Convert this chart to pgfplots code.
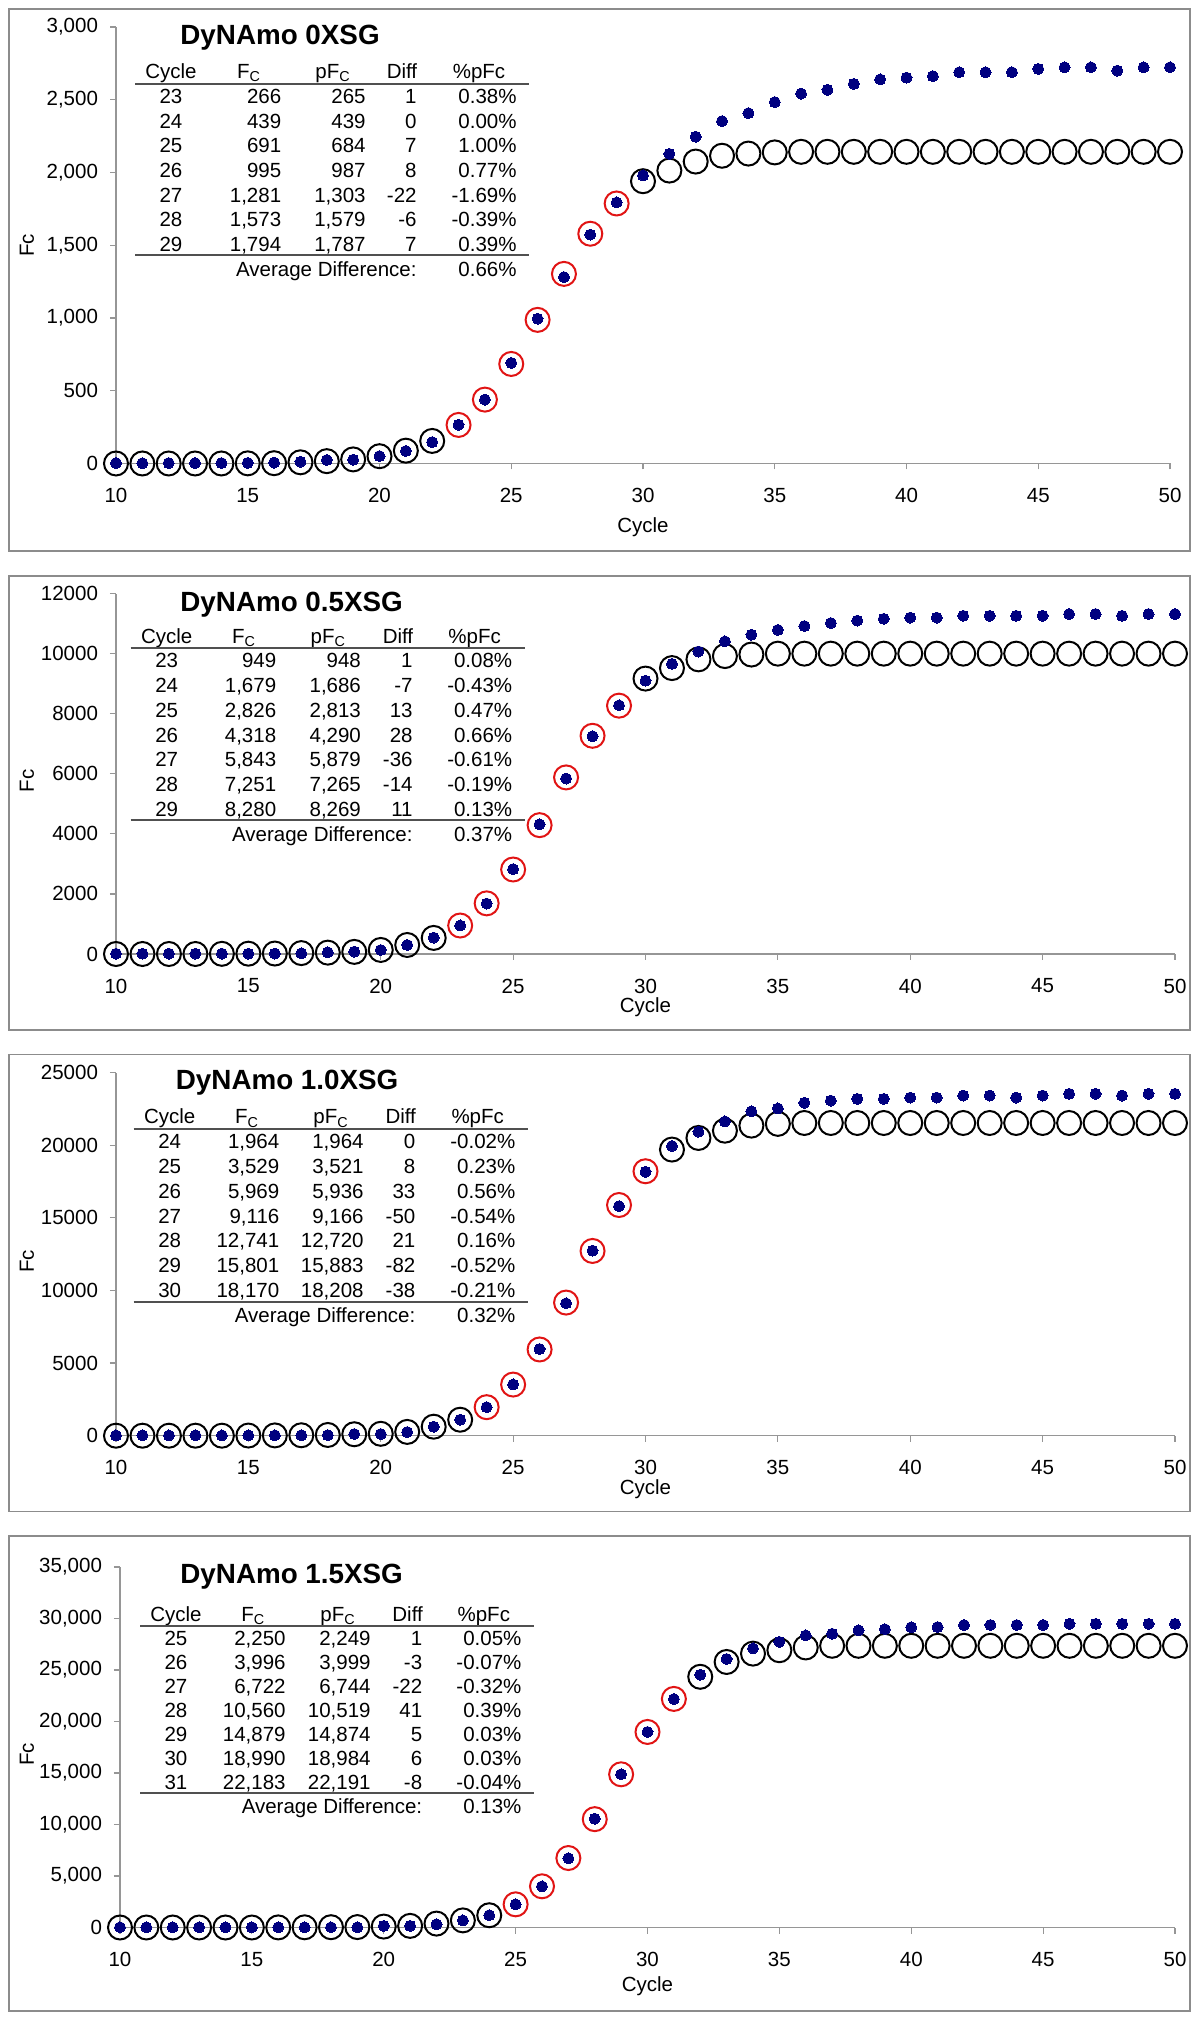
\documentclass[border=0pt]{standalone}
\usepackage{fontspec}
\setmainfont{Liberation Sans}
\usepackage{pgfplots}
\pgfplotsset{compat=1.18}
\definecolor{dotblue}{RGB}{0,0,128}
\definecolor{ringred}{RGB}{225,20,20}
\definecolor{axgray}{RGB}{150,150,150}
\definecolor{boxgray}{RGB}{140,140,140}
\definecolor{rulegray}{RGB}{80,80,80}
\newcommand\tf{\fontsize{10.25}{12}\selectfont}
\newcommand\ttl{\fontsize{13.9}{16}\selectfont\bfseries}

\pgfplotsset{
  fcaxis/.style={
    scale only axis, clip=false, anchor=south west,
    xmin=10, xmax=50, ymin=0,
    axis x line*=bottom, axis y line*=left,
    axis line style={axgray, line width=0.7pt},
    xtick={10,15,...,50},
    tick align=outside,
    major tick length=3pt,
    tick style={axgray, line width=0.6pt},
    ticklabel style={font=\tf, black},
    xticklabel style={yshift=-5.9pt},
    yticklabel style={xshift=-2.5pt},
    /pgf/number format/assume math mode=true,
    /pgf/number format/fixed,
    /pgf/number format/precision=0,
    scaled y ticks=false, scaled x ticks=false,
    label style={font=\tf},
    xlabel={Cycle}, ylabel={Fc},
    x label style={anchor=center},
    y label style={anchor=center},
  },
  ring/.style={only marks, mark=o, mark size=6pt, mark options={draw=#1, line width=1pt, solid}},
  dots/.style={only marks, mark=*, mark size=2.75pt, mark options={fill=dotblue, draw=dotblue, line width=0pt}},
}

\tikzset{tt/.style={font=\tf, inner sep=0pt}}
\newcommand\hdr[1]{%
  \node[tt,anchor=base] at (\cC,#1) {Cycle};
  \node[tt,anchor=base] at ({\cF-32.6},#1) {F\textsubscript{C}};
  \node[tt,anchor=base] at ({\cP-33},#1) {pF\textsubscript{C}};
  \node[tt,anchor=base] at ({\cD-15},#1) {Diff};
  \node[tt,anchor=base] at ({\cR-38},#1) {\%pFc};
}
\newcommand\trow[6]{%
  \node[tt,anchor=base] at (\cC,{#1+7.3}) {#2};
  \node[tt,anchor=base east] at (\cF,{#1+7.3}) {#3};
  \node[tt,anchor=base east] at (\cP,{#1+7.3}) {#4};
  \node[tt,anchor=base east] at (\cD,{#1+7.3}) {#5};
  \node[tt,anchor=base east] at (\cR,{#1+7.3}) {#6\%};
}
\newcommand\trule[1]{\draw[rulegray, line width=1pt] ({\cC-36},#1) -- ({\cR+12},#1);}
\newcommand\tavg[2]{%
  \node[tt,anchor=base east] at (\cD,{#1+7.3}) {Average Difference:};
  \node[tt,anchor=base east] at (\cR,{#1+7.3}) {#2\%};
}

\begin{document}
\begin{tikzpicture}
\path[use as bounding box, fill=white] (0,0) rectangle (600pt,1009pt);

% ---------------- Panel 1 ----------------
\begin{axis}[fcaxis, at={(58pt,777.25pt)}, width=527pt, height=218.25pt,
  ymax=3000, ytick={0,500,...,3000}, /pgf/number format/1000 sep={,},
  x label style={at={(axis description cs:0.5,-0.145)}},
  y label style={at={(axis description cs:-0.0846,0.5)}}]
\addplot[ring=black] coordinates {
 (10,0) (11,0) (12,0) (13,0) (14,0) (15,1) (16,2) (17,8) (18,16) (19,28) (20,50) (21,88) (22,155)
 (30,1940) (31,2013) (32,2075) (33,2115) (34,2130) (35,2138) (36,2142) (37,2142) (38,2142) (39,2142)
 (40,2142) (41,2142) (42,2142) (43,2142) (44,2142) (45,2142) (46,2142) (47,2142) (48,2142) (49,2142) (50,2142)};
\addplot[ring=ringred] coordinates {
 (23,265) (24,439) (25,684) (26,987) (27,1303) (28,1579) (29,1787)};
\addplot[dots] coordinates {
 (10,3) (11,2) (12,3) (13,3) (14,3) (15,4) (16,6) (17,12) (18,24) (19,26) (20,51) (21,86) (22,147)
 (23,266) (24,439) (25,691) (26,995) (27,1281) (28,1573) (29,1794)
 (30,1980) (31,2128) (32,2246) (33,2353) (34,2408) (35,2484) (36,2542) (37,2568) (38,2609) (39,2640)
 (40,2652) (41,2662) (42,2689) (43,2689) (44,2689) (45,2712) (46,2723) (47,2723) (48,2700) (49,2723) (50,2723)};
\end{axis}

% ---------------- Panel 2 ----------------
\begin{axis}[fcaxis, at={(58pt,532pt)}, width=529.5pt, height=180.2pt,
  ymax=12000, ytick={0,2000,...,12000}, /pgf/number format/1000 sep={},
  x label style={at={(axis description cs:0.5,-0.148)}},
  y label style={at={(axis description cs:-0.0842,0.48)}}]
\addplot[ring=black] coordinates {
 (10,0) (11,0) (12,0) (13,0) (14,5) (15,10) (16,15) (17,30) (18,45) (19,70) (20,135) (21,300) (22,535)
 (30,9170) (31,9520) (32,9810) (33,9920) (34,9970) (35,10000) (36,10000) (37,10000) (38,10000) (39,10000)
 (40,10000) (41,10000) (42,10000) (43,10000) (44,10000) (45,10000) (46,10000) (47,10000) (48,10000) (49,10000) (50,10000)};
\addplot[ring=ringred] coordinates {
 (23,948) (24,1686) (25,2813) (26,4290) (27,5879) (28,7265) (29,8269)};
\addplot[dots] coordinates {
 (10,10) (11,10) (12,10) (13,10) (14,10) (15,10) (16,15) (17,20) (18,55) (19,78) (20,133) (21,300) (22,544)
 (23,949) (24,1679) (25,2826) (26,4318) (27,5843) (28,7251) (29,8280)
 (30,9100) (31,9660) (32,10070) (33,10410) (34,10630) (35,10790) (36,10920) (37,11020) (38,11100) (39,11160)
 (40,11200) (41,11200) (42,11260) (43,11260) (44,11260) (45,11260) (46,11320) (47,11320) (48,11260) (49,11320) (50,11320)};
\end{axis}

% ---------------- Panel 3 ----------------
\begin{axis}[fcaxis, at={(58pt,291.15pt)}, width=529.5pt, height=181.55pt,
  ymax=25000, ytick={0,5000,...,25000}, /pgf/number format/1000 sep={},
  x label style={at={(axis description cs:0.5,-0.147)}},
  y label style={at={(axis description cs:-0.0842,0.48)}}]
\addplot[ring=black] coordinates {
 (10,0) (11,0) (12,0) (13,0) (14,0) (15,10) (16,20) (17,30) (18,50) (19,100) (20,130) (21,260) (22,620) (23,1100)
 (31,19700) (32,20500) (33,21000) (34,21350) (35,21470) (36,21530) (37,21530) (38,21530) (39,21530)
 (40,21530) (41,21530) (42,21530) (43,21530) (44,21530) (45,21530) (46,21530) (47,21530) (48,21530) (49,21530) (50,21530)};
\addplot[ring=ringred] coordinates {
 (24,1964) (25,3521) (26,5936) (27,9166) (28,12720) (29,15883) (30,18208)};
\addplot[dots] coordinates {
 (10,20) (11,20) (12,20) (13,20) (14,20) (15,20) (16,25) (17,30) (18,40) (19,115) (20,115) (21,253) (22,620) (23,1103)
 (24,1964) (25,3529) (26,5969) (27,9116) (28,12741) (29,15801) (30,18170)
 (31,19950) (32,20930) (33,21640) (34,22330) (35,22530) (36,22920) (37,23070) (38,23190) (39,23190)
 (40,23280) (41,23280) (42,23420) (43,23420) (44,23280) (45,23420) (46,23540) (47,23540) (48,23420) (49,23540) (50,23540)};
\end{axis}

% ---------------- Panel 4 ----------------
\begin{axis}[fcaxis, at={(60pt,45.25pt)}, width=527.5pt, height=180.25pt,
  ymax=35000, ytick={0,5000,...,35000}, /pgf/number format/1000 sep={,},
  x label style={at={(axis description cs:0.5,-0.163)}},
  y label style={at={(axis description cs:-0.0883,0.48)}}]
\addplot[ring=black] coordinates {
 (10,0) (11,0) (12,0) (13,0) (14,0) (15,0) (16,10) (17,20) (18,30) (19,40) (20,90) (21,157) (22,380) (23,690) (24,1190)
 (32,24340) (33,25780) (34,26590) (35,26920) (36,27190) (37,27350) (38,27350) (39,27350)
 (40,27350) (41,27350) (42,27350) (43,27350) (44,27350) (45,27350) (46,27350) (47,27350) (48,27350) (49,27350) (50,27350)};
\addplot[ring=ringred] coordinates {
 (25,2249) (26,3999) (27,6744) (28,10519) (29,14874) (30,18984) (31,22191)};
\addplot[dots] coordinates {
 (10,20) (11,20) (12,20) (13,20) (14,20) (15,20) (16,20) (17,20) (18,20) (19,20) (20,157) (21,157) (22,314) (23,690) (24,1193)
 (25,2250) (26,3996) (27,6722) (28,10560) (29,14879) (30,18990) (31,22183)
 (32,24540) (33,26070) (34,27100) (35,27730) (36,28360) (37,28520) (38,28850) (39,28960)
 (40,29150) (41,29170) (42,29370) (43,29370) (44,29370) (45,29370) (46,29480) (47,29480) (48,29480) (49,29480) (50,29480)};
\end{axis}

% ---------------- frames, titles and tables (px units, y down) ----------------
\begin{scope}[shift={(0,1009pt)}, x=0.5pt, y=-0.5pt]
  \draw[boxgray, line width=0.8pt] (9,9) rectangle (1190,551);
  \draw[boxgray, line width=0.8pt] (9,576) rectangle (1190,1030);
  \draw[boxgray, line width=0.8pt] (9,1054.5) rectangle (1190,1511.7);
  \draw[boxgray, line width=0.8pt] (9,1536) rectangle (1190,2011);

  % Panel 1 table
  \def\cC{171}\def\cF{281.6}\def\cP{366}\def\cD{417}\def\cR{517}
  \node[anchor=base west, inner sep=0pt, font=\ttl] at (180,45) {DyNAmo 0XSG};
  \hdr{78.8}
  \trule{83.6}
  \trow{96.4}{23}{266}{265}{1}{0.38}
  \trow{121.0}{24}{439}{439}{0}{0.00}
  \trow{145.6}{25}{691}{684}{7}{1.00}
  \trow{170.2}{26}{995}{987}{8}{0.77}
  \trow{194.8}{27}{1,281}{1,303}{-22}{-1.69}
  \trow{219.4}{28}{1,573}{1,579}{-6}{-0.39}
  \trow{244.0}{29}{1,794}{1,787}{7}{0.39}
  \trule{255.4}
  \tavg{269}{0.66}

  % Panel 2 table
  \def\cC{166.7}\def\cF{276.6}\def\cP{361.3}\def\cD{413}\def\cR{512.6}
  \node[anchor=base west, inner sep=0pt, font=\ttl] at (180,611.3) {DyNAmo 0.5XSG};
  \hdr{643.6}
  \trule{648.3}
  \trow{660.7}{23}{949}{948}{1}{0.08}
  \trow{685.4}{24}{1,679}{1,686}{-7}{-0.43}
  \trow{710.1}{25}{2,826}{2,813}{13}{0.47}
  \trow{734.8}{26}{4,318}{4,290}{28}{0.66}
  \trow{759.5}{27}{5,843}{5,879}{-36}{-0.61}
  \trow{784.2}{28}{7,251}{7,265}{-14}{-0.19}
  \trow{808.9}{29}{8,280}{8,269}{11}{0.13}
  \trule{820.5}
  \tavg{834.2}{0.37}

  % Panel 3 table
  \def\cC{169.7}\def\cF{279.7}\def\cP{364}\def\cD{415.7}\def\cR{515.7}
  \node[anchor=base west, inner sep=0pt, font=\ttl] at (175.5,1089.3) {DyNAmo 1.0XSG};
  \hdr{1124}
  \trule{1128.7}
  \trow{1141.7}{24}{1,964}{1,964}{0}{-0.02}
  \trow{1166.4}{25}{3,529}{3,521}{8}{0.23}
  \trow{1191.1}{26}{5,969}{5,936}{33}{0.56}
  \trow{1215.8}{27}{9,116}{9,166}{-50}{-0.54}
  \trow{1240.5}{28}{12,741}{12,720}{21}{0.16}
  \trow{1265.2}{29}{15,801}{15,883}{-82}{-0.52}
  \trow{1289.9}{30}{18,170}{18,208}{-38}{-0.21}
  \trule{1301.6}
  \tavg{1315.3}{0.32}

  % Panel 4 table
  \def\cC{176}\def\cF{286}\def\cP{371}\def\cD{422.6}\def\cR{521.8}
  \node[anchor=base west, inner sep=0pt, font=\ttl] at (180,1583.5) {DyNAmo 1.5XSG};
  \hdr{1621.8}
  \trule{1626.2}
  \trow{1638.5}{25}{2,250}{2,249}{1}{0.05}
  \trow{1662.4}{26}{3,996}{3,999}{-3}{-0.07}
  \trow{1686.4}{27}{6,722}{6,744}{-22}{-0.32}
  \trow{1710.4}{28}{10,560}{10,519}{41}{0.39}
  \trow{1734.4}{29}{14,879}{14,874}{5}{0.03}
  \trow{1758.4}{30}{18,990}{18,984}{6}{0.03}
  \trow{1782.3}{31}{22,183}{22,191}{-8}{-0.04}
  \trule{1793.3}
  \tavg{1806.2}{0.13}
\end{scope}
\end{tikzpicture}
\end{document}
